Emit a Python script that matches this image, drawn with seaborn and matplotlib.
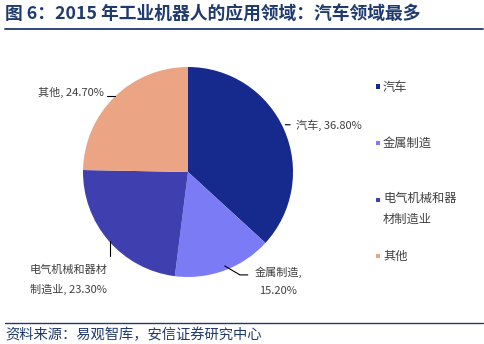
import matplotlib
matplotlib.use("Agg")
import matplotlib.pyplot as plt
import seaborn as sns
from matplotlib.patches import Rectangle
from matplotlib.lines import Line2D

sns.set_theme(style="white")
plt.rcParams['font.family'] = ['Noto Sans CJK SC', 'DejaVu Sans']

categories = ["汽车", "金属制造", "电气机械和器材制造业", "其他"]
legend_labels = ["汽车", "金属制造", "电气机械和器\n材制造业", "其他"]
values = [36.80, 15.20, 23.30, 24.70]
colors = ["#152a8c", "#7b7bf5", "#3f3fb0", "#eba585"]

W, H = 485, 344
fig = plt.figure(figsize=(W / 100, H / 100), dpi=100)
fig.patch.set_facecolor("white")

cx, cy, r = 188, 172, 105
ax = fig.add_axes([(cx - r) / W, (H - cy - r) / H, 2 * r / W, 2 * r / H])
ax.pie(values, colors=colors, startangle=90, counterclock=False, radius=1,
       wedgeprops=dict(linewidth=0))
ax.set_xlim(-1, 1)
ax.set_ylim(-1, 1)
ax.set_aspect("equal")
ax.axis("off")

tc = "#404040"
fs = 8
# 汽车
ax.annotate(f"{categories[0]}, {values[0]:.2f}%", xy=(0.90, 0.45), xytext=(1.03, 0.45),
            ha="left", va="center", fontsize=fs, color=tc, annotation_clip=False,
            arrowprops=dict(arrowstyle="-", color="black", lw=0.8))
# 金属制造
ax.plot([0.35, 0.495, 0.57], [-0.895, -0.98, -0.98], color="black", lw=0.8, clip_on=False)
ax.text(0.86, -0.90, f"{categories[1]},\n{values[1]:.2f}%", ha="center", va="top",
        fontsize=fs, color=tc, linespacing=2.0)
# 电气
ax.plot([-0.743, -0.743], [-0.66, -0.80], color="black", lw=0.8, clip_on=False)
ax.text(-1.14, -0.88, f"电气机械和器材\n制造业, {values[2]:.2f}%", ha="center", va="top",
        fontsize=fs, color=tc, linespacing=2.0)
# 其他
ax.plot([-0.77, -0.70], [0.72, 0.72], color="black", lw=0.8, clip_on=False)
ax.text(-0.80, 0.76, f"{categories[3]}, {values[3]:.2f}%", ha="right", va="center",
        fontsize=fs, color=tc)

# legend
lfs = 8.8
ly = [87, 143, 200, 256]
for lbl, col, y in zip(legend_labels, colors, ly):
    fig.patches.append(Rectangle((376 / W, (H - y - 2) / H), 4.5 / W, 4.5 / H,
                                 transform=fig.transFigure, facecolor=col, edgecolor="none"))
    if "\n" in lbl:
        fig.text(383 / W, (H - y + 8) / H, lbl, ha="left", va="top",
                 fontsize=lfs, color=tc, linespacing=1.8)
    else:
        fig.text(383 / W, (H - y) / H, lbl, ha="left", va="center",
                 fontsize=lfs, color=tc)

navy = "#1f3a6e"
fig.text(5 / W, (H - 15) / H, "图 6：2015 年工业机器人的应用领域：汽车领域最多", fontsize=12.8,
         fontweight="bold", color=navy, ha="left", va="center")
fig.lines.append(Line2D([5 / W, 483 / W], [(H - 29) / H] * 2, transform=fig.transFigure,
                        color=navy, lw=1.3))
fig.lines.append(Line2D([5 / W, 483 / W], [(H - 323) / H] * 2, transform=fig.transFigure,
                        color=navy, lw=1.0))
fig.text(5 / W, (H - 335) / H, "资料来源：易观智库，安信证券研究中心", fontsize=10.3,
         color=navy, ha="left", va="center", style="italic")

fig.savefig("out.png", dpi=100, facecolor="white")
